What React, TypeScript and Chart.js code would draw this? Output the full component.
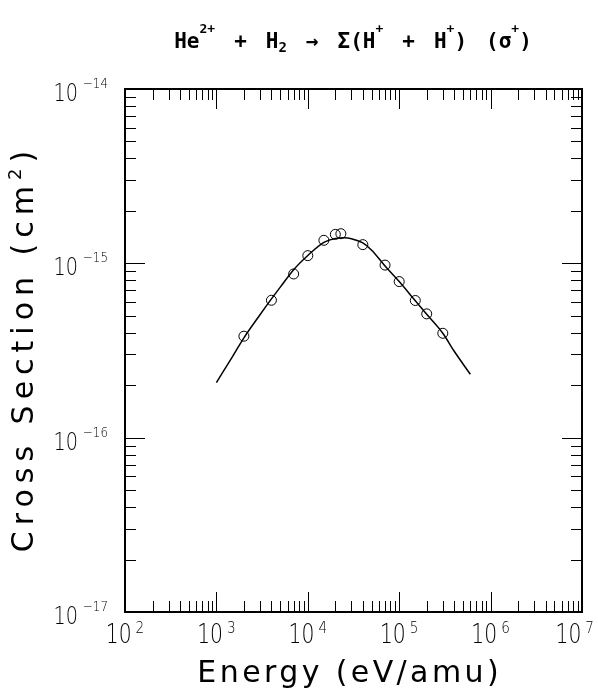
import React, { useEffect, useRef } from 'react';
import { Chart, registerables } from 'chart.js';

Chart.register(...registerables);

// ---- data ----
const curveEnergy = [1e3, 1.5e3, 2e3, 3e3, 4e3, 5e3, 7e3, 1e4, 1.5e4, 2e4, 2.5e4, 3e4, 4e4, 5e4, 7e4, 1e5, 1.5e5, 2e5, 3e5, 4e5, 6e5];
const curveSigma = [2.07e-16, 2.92e-16, 3.74e-16, 5.07e-16, 6.25e-16, 7.3e-16, 9.2e-16, 1.11e-15, 1.32e-15, 1.39e-15, 1.40e-15, 1.385e-15, 1.31e-15, 1.19e-15, 9.65e-16, 7.86e-16, 6.1e-16, 5.1e-16, 3.97e-16, 3.13e-16, 2.31e-16];

const pointEnergy = [2000, 4000, 7000, 10000, 15000, 20000, 23000, 40000, 70000, 100000, 150000, 200000, 300000];
const pointSigma = [3.82e-16, 6.14e-16, 8.69e-16, 1.107e-15, 1.355e-15, 1.466e-15, 1.479e-15, 1.28e-15, 9.77e-16, 7.86e-16, 6.12e-16, 5.13e-16, 3.97e-16];

const xTickExponents = [2, 3, 4, 5, 6, 7];
const yTickExponents = [-17, -16, -15, -14];

type Kind = 'n' | 'sup' | 'sub';
const titleSegments: [string, Kind][] = [
  ['He', 'n'], ['2+', 'sup'], [' + H', 'n'], ['2', 'sub'], [' → Σ(H', 'n'], ['+', 'sup'],
  [' + H', 'n'], ['+', 'sup'], [') (σ', 'n'], ['+', 'sup'], [')', 'n'],
];
const xAxisTitle = 'Energy (eV/amu)';
const yAxisTitleSegments: [string, Kind][] = [['Cross Section (cm', 'n'], ['2', 'sup'], [')', 'n']];

const FONT = "'DejaVu Sans', sans-serif";
const MONO = "'DejaVu Sans Mono', monospace";

function condensedWidth(ctx: CanvasRenderingContext2D, text: string, font: string, sx: number) {
  ctx.font = font;
  return ctx.measureText(text).width * sx;
}
function drawCondensed(ctx: CanvasRenderingContext2D, text: string, x: number, y: number, font: string, sx: number) {
  ctx.save();
  ctx.font = font;
  ctx.translate(x, y);
  ctx.scale(sx, 1);
  ctx.textAlign = 'left';
  ctx.textBaseline = 'alphabetic';
  ctx.fillText(text, 0, 0);
  ctx.restore();
}

const decoPlugin = {
  id: 'deco',
  afterDraw(chart: any) {
    const { ctx, chartArea: a } = chart;
    const xs = chart.scales.x;
    const ys = chart.scales.y;
    ctx.save();
    ctx.fillStyle = '#000';
    ctx.strokeStyle = '#000';

    // tick marks (inward, all sides)
    const MINOR = 11, MAJOR = 20;
    ctx.lineWidth = 1;
    ctx.beginPath();
    xTickExponents.forEach((e, i) => {
      const px = Math.round(xs.getPixelForValue(Math.pow(10, e))) + 0.5;
      ctx.moveTo(px, a.bottom); ctx.lineTo(px, a.bottom - MAJOR);
      ctx.moveTo(px, a.top); ctx.lineTo(px, a.top + MAJOR);
      if (i < xTickExponents.length - 1) {
        for (let m = 2; m <= 9; m++) {
          const q = Math.round(xs.getPixelForValue(m * Math.pow(10, e))) + 0.5;
          ctx.moveTo(q, a.bottom); ctx.lineTo(q, a.bottom - MINOR);
          ctx.moveTo(q, a.top); ctx.lineTo(q, a.top + MINOR);
        }
      }
    });
    yTickExponents.forEach((e, i) => {
      const py = Math.round(ys.getPixelForValue(Math.pow(10, e))) + 0.5;
      ctx.moveTo(a.left, py); ctx.lineTo(a.left + MAJOR, py);
      ctx.moveTo(a.right, py); ctx.lineTo(a.right - MAJOR, py);
      if (i < yTickExponents.length - 1) {
        for (let m = 2; m <= 9; m++) {
          const q = Math.round(ys.getPixelForValue(m * Math.pow(10, e))) + 0.5;
          ctx.moveTo(a.left, q); ctx.lineTo(a.left + MINOR, q);
          ctx.moveTo(a.right, q); ctx.lineTo(a.right - MINOR, q);
        }
      }
    });
    ctx.stroke();

    // frame
    ctx.lineWidth = 2;
    ctx.strokeRect(a.left, a.top, a.right - a.left, a.bottom - a.top);

    // x tick labels
    const xMant = `200 26px ${FONT}`, xExp = `200 16px ${FONT}`;
    xTickExponents.forEach((e) => {
      const px = xs.getPixelForValue(Math.pow(10, e));
      const w1 = condensedWidth(ctx, '10', xMant, 0.78);
      const w2 = condensedWidth(ctx, String(e), xExp, 0.85);
      const total = w1 + 4 + w2;
      let left = px - total / 2;
      if (left + total > 594) left = 594 - total;
      drawCondensed(ctx, '10', left, a.bottom + 31, xMant, 0.78);
      drawCondensed(ctx, String(e), left + w1 + 4, a.bottom + 21, xExp, 0.85);
    });

    // y tick labels
    const yMant = `200 24px ${FONT}`, yExp = `200 14px ${FONT}`;
    yTickExponents.forEach((e) => {
      const py = ys.getPixelForValue(Math.pow(10, e));
      const expText = '−' + String(Math.abs(e));
      const w1 = condensedWidth(ctx, '10', yMant, 0.8);
      const w2 = condensedWidth(ctx, expText, yExp, 0.85);
      const right = a.left - 17;
      const left = right - (w1 + 5 + w2);
      drawCondensed(ctx, '10', left, py + 12, yMant, 0.8);
      drawCondensed(ctx, expText, left + w1 + 5, py - 1, yExp, 0.85);
    });

    // title
    const SPACE = 19;
    const fonts: Record<Kind, string> = { n: `bold 21px ${MONO}`, sup: `bold 13px ${MONO}`, sub: `bold 14px ${MONO}` };
    const dy: Record<Kind, number> = { n: 0, sup: -15, sub: 4 };
    let tw = 0;
    titleSegments.forEach(([t, k]) => {
      ctx.font = fonts[k];
      for (const ch of t) tw += ch === ' ' ? SPACE : ctx.measureText(ch).width;
    });
    let tx = 353 - tw / 2;
    const ty = 48;
    ctx.textBaseline = 'alphabetic';
    ctx.textAlign = 'left';
    titleSegments.forEach(([t, k]) => {
      ctx.font = fonts[k];
      for (const ch of t) {
        if (ch === ' ') { tx += SPACE; continue; }
        ctx.fillText(ch, tx, ty + dy[k]);
        tx += ctx.measureText(ch).width;
      }
    });

    // x axis title
    ctx.font = `30px ${FONT}`;
    (ctx as any).letterSpacing = '3.4px';
    const xw = ctx.measureText(xAxisTitle).width - 3.4;
    ctx.fillText(xAxisTitle, 348 - xw / 2, 682);

    // y axis title (rotated)
    const yFonts: Record<Kind, string> = { n: `30px ${FONT}`, sup: `18px ${FONT}`, sub: `18px ${FONT}` };
    const yDy: Record<Kind, number> = { n: 0, sup: -12, sub: 4 };
    (ctx as any).letterSpacing = '6px';
    let yw = 0;
    yAxisTitleSegments.forEach(([t, k]) => { ctx.font = yFonts[k]; yw += ctx.measureText(t).width; });
    yw -= 6;
    ctx.save();
    ctx.translate(33, 351.5);
    ctx.rotate(-Math.PI / 2);
    let yx = -yw / 2;
    yAxisTitleSegments.forEach(([t, k]) => {
      ctx.font = yFonts[k];
      ctx.fillText(t, yx, yDy[k]);
      yx += ctx.measureText(t).width;
    });
    ctx.restore();
    (ctx as any).letterSpacing = '0px';

    ctx.restore();
  },
};

export default function App() {
  const ref = useRef<HTMLCanvasElement>(null);
  useEffect(() => {
    document.body.style.margin = '0';
    document.body.style.overflow = 'hidden';
    const canvas = ref.current!;
    const chart = new Chart(canvas, {
      type: 'scatter',
      data: {
        datasets: [
          {
            label: 'fit',
            data: curveEnergy.map((x, i) => ({ x, y: curveSigma[i] })),
            showLine: true,
            borderColor: '#000',
            borderWidth: 1.5,
            pointRadius: 0,
            cubicInterpolationMode: 'monotone',
            fill: false,
          } as any,
          {
            label: 'data',
            data: pointEnergy.map((x, i) => ({ x, y: pointSigma[i] })),
            showLine: false,
            pointStyle: 'circle',
            pointRadius: 5,
            borderWidth: 1,
            borderColor: '#000',
            backgroundColor: 'rgba(0,0,0,0)',
          },
        ],
      },
      options: {
        animation: false,
        responsive: false,
        devicePixelRatio: 1,
        layout: { padding: { left: 125, right: 16, top: 89, bottom: 84 } },
        plugins: { legend: { display: false }, tooltip: { enabled: false }, title: { display: false } },
        scales: {
          x: { type: 'logarithmic', min: 1e2, max: 1e7, display: false },
          y: { type: 'logarithmic', min: 1e-17, max: 1e-14, display: false },
        },
      },
      plugins: [decoPlugin],
    });
    return () => chart.destroy();
  }, []);
  return (
    <div style={{ position: 'absolute', left: 0, top: 0, width: 598, height: 696, background: '#fff' }}>
      <canvas ref={ref} width={598} height={696} style={{ display: 'block' }} />
    </div>
  );
}
